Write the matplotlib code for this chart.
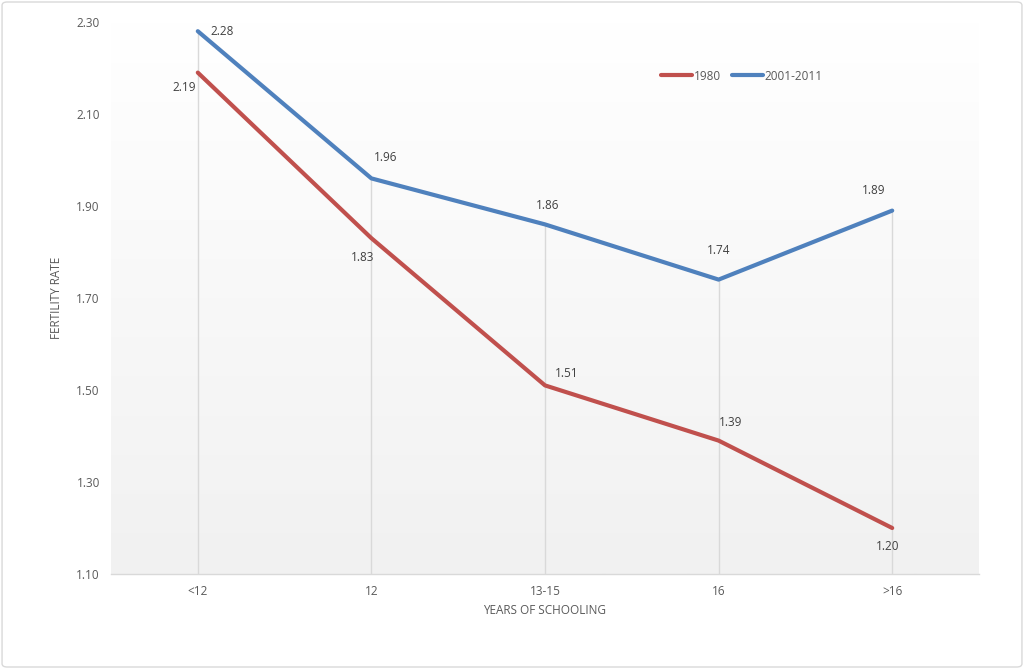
import matplotlib
matplotlib.use("Agg")
import matplotlib.pyplot as plt
import numpy as np
from matplotlib.patches import FancyBboxPatch
from matplotlib.colors import LinearSegmentedColormap

categories = ["<12", "12", "13-15", "16", ">16"]
series_1980 = [2.19, 1.83, 1.51, 1.39, 1.20]
series_2001 = [2.28, 1.96, 1.86, 1.74, 1.89]
yticks = [1.10, 1.30, 1.50, 1.70, 1.90, 2.10, 2.30]

red = "#c0504d"
blue = "#4f81bd"
txt = "#595959"
plt.rcParams['font.family'] = ['Open Sans', 'DejaVu Sans']
fs = 8.5

fig = plt.figure(figsize=(10.24, 6.69), dpi=100)
ax = fig.add_axes([111/1024, 1-574/669, (979-111)/1024, (574-22)/669])

x = np.arange(len(categories))
ax.set_xlim(-0.5, len(categories)-0.5)
ax.set_ylim(1.10, 2.30)

# gradient background
grad = np.linspace(0, 1, 256).reshape(-1, 1)
cmap = LinearSegmentedColormap.from_list("g", ["#f1f1f1", "#ffffff"])
ax.imshow(grad, extent=[-0.5, len(categories)-0.5, 1.10, 2.30], origin="lower",
          aspect="auto", cmap=cmap, zorder=0)

# drop lines
tops = np.maximum(series_1980, series_2001)
ax.vlines(x, 1.10, tops, color="#d9d9d9", lw=1, zorder=1)

ax.plot(x, series_1980, color=red, lw=3, solid_capstyle="round", label="1980", zorder=3)
ax.plot(x, series_2001, color=blue, lw=3, solid_capstyle="round", label="2001-2011", zorder=3)

off_1980 = [(-14, -15), (-9, -19), (22, 12), (12, 18), (-5, -18)]
off_2001 = [(24, 0), (14, 21), (3, 19), (0, 29), (-19, 20)]
for xi, v, o in zip(x, series_1980, off_1980):
    ax.annotate(f"{v:.2f}", (xi, v), xytext=o, textcoords="offset pixels",
                ha="center", va="center", fontsize=fs, color="#404040")
for xi, v, o in zip(x, series_2001, off_2001):
    ax.annotate(f"{v:.2f}", (xi, v), xytext=o, textcoords="offset pixels",
                ha="center", va="center", fontsize=fs, color="#404040")

ax.set_xticks(x)
ax.set_xticklabels(categories)
ax.set_yticks(yticks)
ax.set_yticklabels([f"{t:.2f}" for t in yticks])
ax.tick_params(length=0, colors=txt, labelsize=fs)
ax.tick_params(axis="x", pad=8)
ax.tick_params(axis="y", pad=8)
for s in ["top", "right", "left"]:
    ax.spines[s].set_visible(False)
ax.spines["bottom"].set_color("#d9d9d9")
ax.spines["bottom"].set_linewidth(1)

ax.set_xlabel("YEARS OF SCHOOLING", fontsize=fs, color=txt)
ax.set_ylabel("FERTILITY RATE", fontsize=fs, color=txt)
ax.xaxis.set_label_coords(0.5, (574-610)/552, transform=ax.transAxes)
ax.yaxis.set_label_coords((57-111)/868, 0.5, transform=ax.transAxes)
ax.xaxis.label.set_va("center")
ax.yaxis.label.set_va("center")

leg = ax.legend(loc="center", bbox_to_anchor=(742/1024, 1-76/669), bbox_transform=fig.transFigure,
                ncol=2, frameon=False, fontsize=fs, handlelength=2.6, handletextpad=0.15,
                columnspacing=1.0, labelcolor=txt)

border = FancyBboxPatch((0.002, 0.003), 0.996, 0.994, boxstyle="round,pad=0,rounding_size=0.005",
                        transform=fig.transFigure, fill=False, ec="#d9d9d9", lw=1)
fig.patches.append(border)

fig.savefig("out.png", dpi=100)
